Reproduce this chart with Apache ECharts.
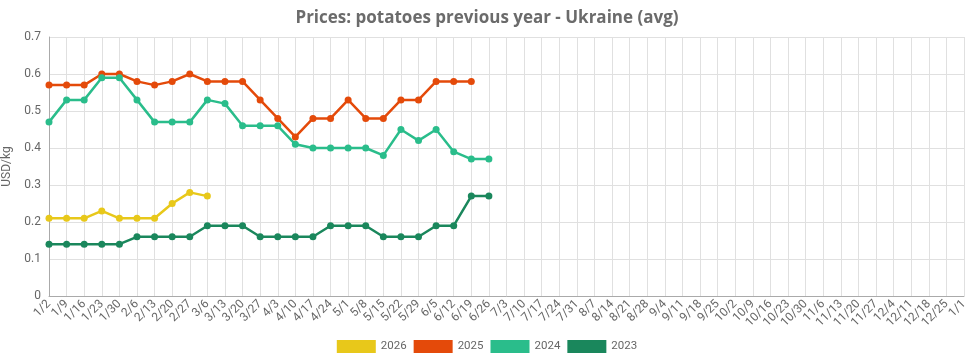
<!DOCTYPE html>
<html>
<head>
<meta charset="utf-8">
<script src="https://cdn.jsdelivr.net/npm/echarts@6/dist/echarts.min.js"></script>
<style>
html,body{margin:0;padding:0;background:#fff;}
#chart{width:974px;height:361px;}
</style>
</head>
<body>
<div id="chart"></div>
<script>
const categories = ["1/2","1/9","1/16","1/23","1/30","2/6","2/13","2/20","2/27","3/6","3/13","3/20","3/27","4/3","4/10","4/17","4/24","5/1","5/8","5/15","5/22","5/29","6/5","6/12","6/19","6/26","7/3","7/10","7/17","7/24","7/31","8/7","8/14","8/21","8/28","9/4","9/11","9/18","9/25","10/2","10/9","10/16","10/23","10/30","11/6","11/13","11/20","11/27","12/4","12/11","12/18","12/25","1/1"];
const yTicks = [0, 0.1, 0.2, 0.3, 0.4, 0.5, 0.6, 0.7];
const seriesNames = ["2026", "2025", "2024", "2023"];
const values2026 = [0.21,0.21,0.21,0.23,0.21,0.21,0.21,0.25,0.28,0.27];
const values2025 = [0.57,0.57,0.57,0.60,0.60,0.58,0.57,0.58,0.60,0.58,0.58,0.58,0.53,0.48,0.43,0.48,0.48,0.53,0.48,0.48,0.53,0.53,0.58,0.58,0.58];
const values2024 = [0.47,0.53,0.53,0.59,0.59,0.53,0.47,0.47,0.47,0.53,0.52,0.46,0.46,0.46,0.41,0.40,0.40,0.40,0.40,0.38,0.45,0.42,0.45,0.39,0.37,0.37];
const values2023 = [0.14,0.14,0.14,0.14,0.14,0.16,0.16,0.16,0.16,0.19,0.19,0.19,0.16,0.16,0.16,0.16,0.19,0.19,0.19,0.16,0.16,0.16,0.19,0.19,0.27,0.27];

const colors = ["#E8C81A", "#E44A0A", "#2ABD8B", "#1A875C"];
const allValues = [values2026, values2025, values2024, values2023];

const chart = echarts.init(document.getElementById('chart'), null, {renderer: 'canvas'});
chart.setOption({
  animation: false,
  color: colors,
  title: {
    text: 'Prices: potatoes previous year - Ukraine (avg)',
    left: 'center',
    top: 5,
    textStyle: {fontFamily: 'Open Sans', fontWeight: 'bold', fontSize: 17, color: '#6b6b6b'}
  },
  legend: {
    bottom: 3,
    left: 'center',
    itemWidth: 39,
    itemHeight: 13,
    itemGap: 7,
    icon: 'rect',
    textStyle: {fontFamily: 'Roboto', fontSize: 11.5, color: '#666'},
    data: seriesNames
  },
  grid: {left: 49, right: 10, top: 37, bottom: 65, containLabel: false, outerBoundsMode: 'none'},
  xAxis: {
    type: 'category',
    boundaryGap: false,
    data: categories,
    axisLine: {lineStyle: {color: '#aaa'}},
    axisTick: {show: false},
    axisLabel: {rotate: 45, interval: 0, color: '#666', fontFamily: 'Roboto', fontSize: 12, margin: 6},
    splitLine: {show: true, lineStyle: {color: '#e0e0e0'}}
  },
  yAxis: {
    type: 'value',
    min: yTicks[0],
    max: yTicks[yTicks.length - 1],
    interval: 0.1,
    name: 'USD/kg',
    nameLocation: 'middle',
    nameGap: 32,
    nameTextStyle: {color: '#666', fontFamily: 'Roboto', fontSize: 12},
    axisLine: {show: true, lineStyle: {color: '#aaa'}},
    axisTick: {show: false},
    axisLabel: {color: '#666', fontFamily: 'Roboto', fontSize: 12, margin: 8},
    splitLine: {lineStyle: {color: '#e0e0e0'}}
  },
  series: seriesNames.map((n, i) => ({
    name: n,
    type: 'line',
    data: allValues[i],
    symbol: 'circle',
    symbolSize: 7,
    lineStyle: {width: 2.5},
    itemStyle: {color: colors[i]}
  }))
});
</script>
</body>
</html>
